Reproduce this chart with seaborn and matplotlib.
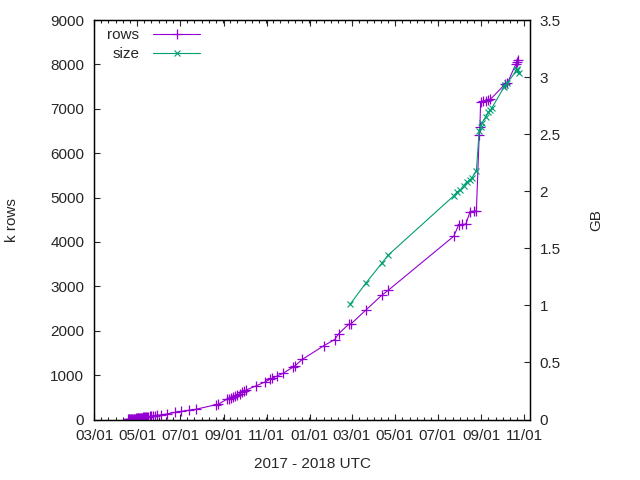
import matplotlib
matplotlib.use("Agg")
import matplotlib.pyplot as plt
import matplotlib.dates as mdates
from matplotlib.ticker import AutoMinorLocator, FuncFormatter
import pandas as pd
import seaborn as sns

# k rows over time
rows_dates = [
    '2017-04-18', '2017-04-19', '2017-04-20', '2017-04-21', '2017-04-22', '2017-04-23', '2017-04-24', '2017-04-25',
    '2017-04-26', '2017-04-27', '2017-04-28', '2017-04-29', '2017-04-30', '2017-05-01',
    '2017-05-02', '2017-05-03', '2017-05-04', '2017-05-05', '2017-05-06', '2017-05-07',
    '2017-05-08', '2017-05-09', '2017-05-10', '2017-05-11', '2017-05-12', '2017-05-13',
    '2017-05-15', '2017-05-17', '2017-05-19', '2017-05-21', '2017-05-23', '2017-05-26',
    '2017-05-29', '2017-06-04', '2017-06-12', '2017-06-24', '2017-07-03', '2017-07-14',
    '2017-07-24', '2017-08-21', '2017-08-24', '2017-09-05', '2017-09-08', '2017-09-11',
    '2017-09-14', '2017-09-17', '2017-09-20', '2017-09-24', '2017-09-27', '2017-09-30',
    '2017-10-03', '2017-10-17', '2017-10-30', '2017-11-05', '2017-11-08', '2017-11-15',
    '2017-11-24', '2017-12-08', '2017-12-11', '2017-12-21', '2018-01-21', '2018-02-05',
    '2018-02-11', '2018-02-25', '2018-02-28', '2018-03-22', '2018-04-13', '2018-04-22',
    '2018-07-24', '2018-07-31', '2018-08-05', '2018-08-10', '2018-08-16', '2018-08-21',
    '2018-08-25', '2018-08-29', '2018-08-30', '2018-08-31', '2018-09-03', '2018-09-07',
    '2018-09-11', '2018-09-14', '2018-10-05', '2018-10-08', '2018-10-20', '2018-10-22',
    '2018-10-23',
]
rows_k = [
    1, 2, 3, 5, 7, 9, 11, 13,
    15, 18, 20, 22, 24, 26,
    28, 30, 33, 35, 37, 40,
    42, 44, 47, 50, 52, 55,
    58, 62, 68, 75, 80, 88,
    95, 105, 125, 160, 185, 210,
    232, 335, 342, 452, 470, 490,
    512, 535, 558, 585, 612, 640,
    665, 760, 850, 905, 925, 978,
    1040, 1180, 1210, 1352, 1665, 1800,
    1935, 2145, 2150, 2475, 2800, 2910,
    4130, 4390, 4395, 4400, 4680, 4695,
    4700, 6400, 6580, 7160, 7175, 7185,
    7200, 7215, 7560, 7580, 8010, 8060,
    8100,
]

# size in GB over time
size_dates = [
    '2018-02-27', '2018-03-22', '2018-04-13', '2018-04-22', '2018-07-24', '2018-07-28',
    '2018-08-02', '2018-08-07', '2018-08-11', '2018-08-16', '2018-08-19', '2018-08-25',
    '2018-08-29', '2018-08-31', '2018-09-02', '2018-09-07', '2018-09-11', '2018-09-14',
    '2018-09-16', '2018-10-03', '2018-10-05', '2018-10-08', '2018-10-20', '2018-10-21',
    '2018-10-22', '2018-10-24',
]
size_gb = [
    1.01, 1.20, 1.37, 1.44, 1.96, 1.99,
    2.01, 2.05, 2.08, 2.10, 2.12, 2.18,
    2.53, 2.56, 2.60, 2.65, 2.69, 2.71,
    2.73, 2.91, 2.93, 2.95, 3.05, 3.07,
    3.06, 3.04,
]

x_range = ['2017-03-01', '2018-11-09']
left_ticks = list(range(0, 9001, 1000))
right_ticks = [0, 0.5, 1, 1.5, 2, 2.5, 3, 3.5]

PURPLE = '#9400d3'
GREEN = '#009e73'

sns.set_style('ticks')
plt.rcParams['font.family'] = ['Liberation Sans', 'DejaVu Sans']
plt.rcParams['font.size'] = 11

rows_df = pd.DataFrame({'date': pd.to_datetime(rows_dates), 'k': rows_k})
size_df = pd.DataFrame({'date': pd.to_datetime(size_dates), 'gb': size_gb})

fig = plt.figure(figsize=(6.4, 4.8), dpi=100)
ax = fig.add_axes([94 / 640, 60.5 / 480, 436 / 640, 399.5 / 480])
ax2 = ax.twinx()

sns.lineplot(data=rows_df, x='date', y='k', ax=ax, color=PURPLE, label='rows',
             marker='+', markersize=6.5, markeredgewidth=0.9, markeredgecolor=PURPLE,
             linewidth=0.8, legend=False)
sns.lineplot(data=size_df, x='date', y='gb', ax=ax2, color=GREEN, label='size',
             marker='x', markersize=5, markeredgewidth=0.8, markeredgecolor=GREEN,
             linewidth=0.8, legend=False)

ax.set_xlim(pd.to_datetime(x_range[0]), pd.to_datetime(x_range[1]))
ax.set_ylim(0, 9000)
ax2.set_ylim(0, 3.5)
ax.set_yticks(left_ticks)
ax2.set_yticks(right_ticks)
ax2.yaxis.set_major_formatter(FuncFormatter(lambda v, p: f'{v:g}'))

ax.xaxis.set_major_locator(mdates.MonthLocator(bymonth=[1, 3, 5, 7, 9, 11]))
ax.xaxis.set_major_formatter(mdates.DateFormatter('%m/%d'))
ax.xaxis.set_minor_locator(AutoMinorLocator(6))

ax.tick_params(axis='x', which='major', direction='in', top=True, length=4.5, width=0.8, pad=7, labelsize=11)
ax.tick_params(axis='x', which='minor', direction='in', top=True, length=2.5, width=0.8)
ax.tick_params(axis='y', which='major', direction='in', right=False, length=4.5, width=0.8, pad=7, labelsize=11)
ax2.tick_params(axis='y', which='major', direction='in', length=4.5, width=0.8, pad=7, labelsize=11)

for a in (ax, ax2):
    for s in a.spines.values():
        s.set_color('black')
        s.set_linewidth(0.9)

ax.set_xlabel('2017 - 2018 UTC', fontsize=11)
ax.xaxis.set_label_coords(0.5, -0.095)
ax.set_ylabel('k rows', fontsize=11)
ax.yaxis.set_label_coords(-0.172, 0.5)
ax2.set_ylabel('GB', fontsize=11)
ax2.yaxis.set_label_coords(1.135, 0.5)

handles = ax.get_lines()[:1] + ax2.get_lines()[:1]
leg = ax2.legend(handles, ['rows', 'size'], loc='upper left', bbox_to_anchor=(0.03, 0.98),
                 frameon=False, markerfirst=False, handlelength=3.1, handletextpad=0.9,
                 labelspacing=0.35, borderpad=0, borderaxespad=0, fontsize=11)

fig.savefig('out.png', dpi=100)
